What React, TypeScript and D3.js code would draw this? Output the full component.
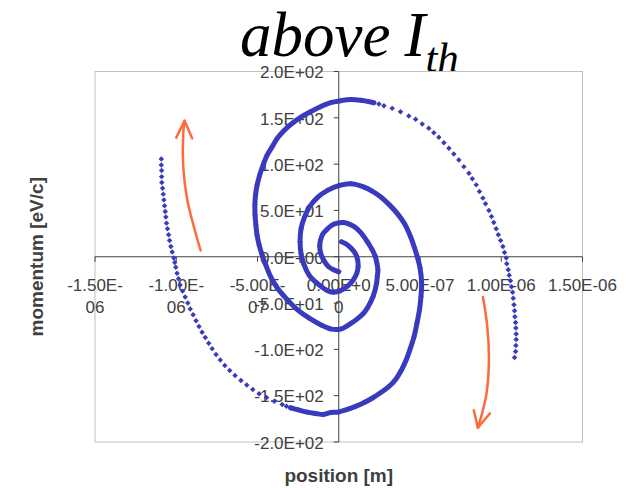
import React from "react";
import * as d3 from "d3";

// Phase-space trajectory of two tracked particles. Position in micrometres
// (multiplied by 1e-6 to get metres), momentum deviation in eV/c.
// Each arm is split into the tightly sampled inner turns and the outer turn
// where the individual samples are spread apart.
const armAInner: [number, number][] = [
  [0.017, 16.2], [0.048, 13.5], [0.079, 8.6], [0.103, 3.2], [0.116, -3.2],
  [0.119, -10.8], [0.11, -18.3], [0.088, -25.3], [0.054, -31.8], [0.011, -36.6],
  [-0.032, -38.3], [-0.075, -36.1], [-0.13, -29.1], [-0.18, -20.5], [-0.214, -8.6],
  [-0.232, 3.2], [-0.238, 16.2], [-0.232, 30.2], [-0.21, 43.1], [-0.18, 53.9],
  [-0.13, 64.1], [-0.069, 71.7], [0.005, 77.0], [0.073, 78.7], [0.153, 75.4],
  [0.208, 70.6], [0.257, 64.7], [0.312, 56.0], [0.362, 46.3], [0.405, 35.6],
  [0.442, 21.6], [0.466, 9.7], [0.485, -1.1], [0.5, -11.9], [0.51, -28.0],
  [0.506, -43.1], [0.497, -57.1], [0.482, -71.1], [0.464, -85.9], [0.442, -98.1],
  [0.416, -111.0], [0.386, -122.3], [0.35, -132.5], [0.306, -140.6], [0.257, -146.9],
  [0.208, -152.5], [0.154, -157.7], [0.103, -161.6], [0.052, -164.9], [-0.001, -167.6],
  [-0.05, -168.1], [-0.094, -170.3], [-0.143, -169.2], [-0.194, -167.8], [-0.247, -165.4],
  [-0.297, -163.0],
];

const armAOuter: [number, number][] = [
  [-0.322, -161.4], [-0.348, -159.5], [-0.397, -156.0], [-0.444, -151.9], [-0.49, -147.8], [-0.529, -143.3],
  [-0.566, -138.5], [-0.602, -133.5], [-0.638, -128.3], [-0.671, -122.7], [-0.701, -117.5],
  [-0.729, -111.5], [-0.755, -105.6], [-0.779, -99.2], [-0.8, -93.3], [-0.821, -87.3],
  [-0.841, -81.4], [-0.86, -75.2], [-0.878, -69.0], [-0.896, -62.7], [-0.914, -56.5],
  [-0.929, -50.0], [-0.945, -43.5], [-0.961, -37.1], [-0.976, -30.6], [-0.986, -23.8],
  [-0.995, -17.8], [-1.003, -11.3], [-1.009, -6.3], [-1.015, -1.4], [-1.025, 5.1],
  [-1.033, 11.1], [-1.041, 17.6], [-1.047, 23.7], [-1.054, 30.2], [-1.06, 36.3],
  [-1.064, 42.8], [-1.068, 48.8], [-1.072, 55.0], [-1.076, 61.4], [-1.08, 67.6],
  [-1.084, 74.0], [-1.089, 80.1], [-1.09, 86.5], [-1.09, 93.0], [-1.092, 99.1],
  [-1.092, 105.6],
];

const armBInner: [number, number][] = [
  [0.0, -16.2], [-0.032, -14.0], [-0.066, -10.2], [-0.094, -3.2], [-0.112, 4.3],
  [-0.117, 11.9], [-0.112, 18.3], [-0.097, 24.8], [-0.069, 30.2], [-0.032, 35.0],
  [0.022, 37.0], [0.06, 35.6], [0.093, 32.7], [0.125, 28.0], [0.154, 21.9],
  [0.18, 15.1], [0.206, 7.5], [0.223, 1.1], [0.233, -5.4], [0.241, -14.0],
  [0.237, -21.6], [0.233, -28.3], [0.211, -43.1], [0.177, -55.0], [0.154, -60.7],
  [0.116, -66.8], [0.073, -72.2], [0.011, -78.1], [-0.05, -77.9], [-0.112, -73.3],
  [-0.184, -66.1], [-0.255, -57.1], [-0.317, -46.3], [-0.378, -33.7], [-0.42, -21.2],
  [-0.45, -8.6], [-0.472, 2.2], [-0.49, 12.9], [-0.503, 23.7], [-0.51, 34.5],
  [-0.515, 45.3], [-0.516, 56.0], [-0.512, 66.8], [-0.502, 77.6], [-0.486, 88.4],
  [-0.465, 99.1], [-0.44, 109.9], [-0.409, 118.9], [-0.378, 127.9], [-0.338, 136.1],
  [-0.286, 144.1], [-0.235, 150.5], [-0.174, 156.6], [-0.112, 162.0], [-0.05, 166.3],
  [0.011, 168.4], [0.073, 169.7], [0.134, 168.9], [0.216, 166.3],
];

const armBOuter: [number, number][] = [
  [0.247, 164.8], [0.278, 163.0], [0.329, 160.2], [0.38, 156.6], [0.431, 151.9], [0.473, 148.4],
  [0.514, 143.3], [0.554, 138.7], [0.585, 133.9], [0.616, 129.0], [0.647, 123.2],
  [0.678, 117.1], [0.708, 111.0], [0.739, 104.5], [0.77, 97.3], [0.801, 90.2],
  [0.822, 84.1], [0.846, 77.6], [0.866, 70.4], [0.887, 63.3], [0.903, 57.1],
  [0.924, 49.9], [0.94, 43.4], [0.954, 37.0], [0.969, 30.2], [0.982, 23.7],
  [0.996, 17.6], [1.01, 11.1], [1.02, 4.6], [1.031, -1.4], [1.034, -7.5],
  [1.043, -14.0], [1.049, -19.9], [1.057, -25.9], [1.063, -32.3], [1.07, -38.3],
  [1.074, -44.7], [1.078, -51.7], [1.082, -58.2], [1.084, -64.7], [1.088, -71.1],
  [1.09, -77.0], [1.092, -83.5], [1.092, -89.4], [1.09, -95.9], [1.088, -102.4],
  [1.082, -108.8],
];

// Direction-of-motion arrows (same units as the arms)
const arrowUpShaft: [number, number][] = [
  [-0.85, 6.8], [-0.892, 32.7], [-0.932, 61.4], [-0.957, 97.3], [-0.957, 133.3], [-0.949, 146.9],
];
const arrowUpHead: [number, number][] = [[-1.0, 128.6], [-0.949, 146.9], [-0.902, 127.9]];
const arrowDownShaft: [number, number][] = [
  [0.887, -43.4], [0.914, -75.1], [0.924, -111.0], [0.91, -146.9], [0.883, -168.4], [0.856, -184.6],
];
const arrowDownHead: [number, number][] = [[0.831, -165.7], [0.856, -184.6], [0.93, -169.2]];

const xTicks = [-1.5e-6, -1.0e-6, -5.0e-7, 0, 5.0e-7, 1.0e-6, 1.5e-6];
const xTickLabels = [
  ["-1.50E-", "06"], ["-1.00E-", "06"], ["-5.00E-", "07"], ["0.00E+0", "0"],
  ["5.00E-07"], ["1.00E-06"], ["1.50E-06"],
];
const yTicks = [200, 150, 100, 50, 0, -50, -100, -150, -200];
const yTickLabels = [
  "2.0E+02", "1.5E+02", "1.0E+02", "5.0E+01", "0.0E+00",
  "-5.0E+01", "-1.0E+02", "-1.5E+02", "-2.0E+02",
];

const MICRO = 1e-6;
const W = 635;
const H = 488;
const SANS = "'Liberation Sans', Arial, Helvetica, sans-serif";
const SERIF = "'Liberation Serif', 'Times New Roman', serif";
const BLUE = "#3a3abf";
const ORANGE = "#ff6a3d";
const AXIS = "#404040";

export default function App() {
  const x = d3.scaleLinear().domain([-1.5e-6, 1.5e-6]).range([95, 582.5]);
  const y = d3.scaleLinear().domain([-200, 200]).range([442, 71.5]);

  const px = (d: [number, number]) => x(d[0] * MICRO);
  const py = (d: [number, number]) => y(d[1]);

  const curve = d3
    .line<[number, number]>()
    .x(px)
    .y(py)
    .curve(d3.curveCatmullRom.alpha(0.5));
  const straight = d3.line<[number, number]>().x(px).y(py);
  const diamond = d3.symbol().type(d3.symbolSquare).size(15)() as string;

  const [x0, x1] = x.range();
  const [yb, yt] = y.range();
  const xZero = x(0);
  const yZero = y(0);

  const markers = (pts: [number, number][], key: string) =>
    pts.map((d, i) => (
      <path
        key={key + i}
        d={diamond}
        transform={`translate(${px(d)},${py(d)}) rotate(45)`}
        fill={BLUE}
      />
    ));

  return (
    <div style={{ position: "absolute", left: 0, top: 0 }}>
      <svg width={W} height={H} viewBox={`0 0 ${W} ${H}`} style={{ display: "block", background: "#fff" }}>
        <text x={240} y={56} fontFamily={SERIF} fontStyle="italic" fontSize={63} fill="#000">
          above
          <tspan dx={14}>I</tspan>
          <tspan fontSize={43} dy={16}>th</tspan>
        </text>

        <rect x={x0} y={yt} width={x1 - x0} height={yb - yt} fill="none" stroke="#c0c0c0" strokeWidth={1} />

        {/* axes crossing at the origin */}
        <line x1={x0} x2={x1} y1={yZero} y2={yZero} stroke={AXIS} strokeWidth={1} />
        <line x1={xZero} x2={xZero} y1={yt} y2={yb} stroke={AXIS} strokeWidth={1} />

        {xTicks.map((t, i) => (
          <g key={"xt" + i}>
            <line x1={x(t)} x2={x(t)} y1={yZero} y2={yZero + 5} stroke={AXIS} strokeWidth={1} />
            <text x={x(t)} y={yZero + 34} textAnchor="middle" fontFamily={SANS} fontSize={17} fill={AXIS}>
              {xTickLabels[i].map((line, j) => (
                <tspan key={j} x={x(t)} dy={j === 0 ? 0 : 22}>
                  {line}
                </tspan>
              ))}
            </text>
          </g>
        ))}

        {yTicks.map((t, i) => (
          <g key={"yt" + i}>
            <line x1={xZero - 5} x2={xZero} y1={y(t)} y2={y(t)} stroke={AXIS} strokeWidth={1} />
            <text x={xZero - 15} y={y(t)} dy="0.4em" textAnchor="end" fontFamily={SANS} fontSize={17} fill={AXIS}>
              {yTickLabels[i]}
            </text>
          </g>
        ))}

        {/* trajectories */}
        <g>
          <path d={curve(armAInner) as string} fill="none" stroke={BLUE} strokeWidth={5} strokeLinecap="round" strokeLinejoin="round" />
          <path d={curve(armBInner) as string} fill="none" stroke={BLUE} strokeWidth={5} strokeLinecap="round" strokeLinejoin="round" />
          {markers(armAInner, "ai")}
          {markers(armBInner, "bi")}
          {markers(armAOuter, "ao")}
          {markers(armBOuter, "bo")}
        </g>

        {/* direction of motion */}
        <g fill="none" stroke={ORANGE} strokeWidth={2.5} strokeLinecap="round" strokeLinejoin="round">
          <path d={curve(arrowUpShaft) as string} />
          <path d={straight(arrowUpHead) as string} />
          <path d={curve(arrowDownShaft) as string} />
          <path d={straight(arrowDownHead) as string} />
        </g>

        <text x={(x0 + x1) / 2} y={482} textAnchor="middle" fontFamily={SANS} fontWeight="bold" fontSize={19} fill={AXIS}>
          position [m]
        </text>
        <text
          transform={`translate(43,${(yt + yb) / 2}) rotate(-90)`}
          textAnchor="middle"
          fontFamily={SANS}
          fontWeight="bold"
          fontSize={19}
          fill={AXIS}
        >
          momentum [eV/c]
        </text>
      </svg>
    </div>
  );
}
